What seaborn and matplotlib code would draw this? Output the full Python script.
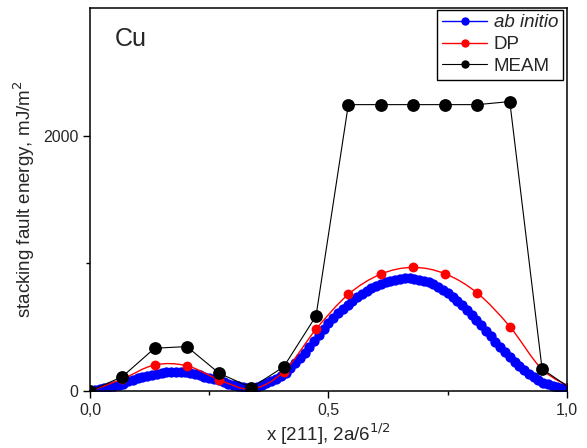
import numpy as np
import seaborn as sns
import matplotlib.pyplot as plt
from matplotlib.lines import Line2D
from matplotlib.path import Path
from matplotlib.patches import PathPatch

# ab initio (dense), DP and MEAM data
abinit_x = np.round(np.arange(0, 101) * 0.01, 2)
abinit_y = [0, 8, 16, 24, 31, 38, 45, 52, 75, 90,
            100, 108, 116, 125, 134, 142, 147, 150, 151, 149,
            146, 140, 133, 123, 113, 104, 94, 84, 70, 58,
            48, 40, 32, 26, 24, 35, 45, 60, 78, 95,
            114, 145, 180, 218, 256, 300, 345, 395, 440, 485,
            530, 570, 608, 643, 676, 708, 737, 762, 784, 803,
            822, 839, 852, 863, 871, 878, 882, 884, 881, 873,
            862, 850, 835, 814, 793, 766, 738, 708, 674, 636,
            597, 556, 515, 472, 428, 386, 343, 302, 266, 228,
            193, 162, 132, 108, 86, 66, 52, 40, 30, 24, 20]

grid_x = [0.0, 0.0677, 0.1354, 0.2031, 0.2708, 0.3385, 0.4062, 0.4739,
          0.5416, 0.6093, 0.6770, 0.7447, 0.8124, 0.8801, 0.9478, 1.0155]
dp_y = [0, 94, 204, 198, 88, 16, 152, 484, 757, 915, 968, 918, 766, 505, 170, 15]
meam_y = [0, 112, 335, 348, 139, 26, 190, 588, 2243, 2243, 2243, 2243, 2243, 2267, 173, 0]

xticks = [0.0, 0.5, 1.0]
xticklabels = ["0,0", "0,5", "1,0"]
yticks = [0, 2000]

sns.set_style("ticks")
plt.rcParams["font.family"] = ["Liberation Sans", "DejaVu Sans"]

fig = plt.figure(figsize=(5.87, 4.48), dpi=100)
ax = fig.add_axes([0.1533, 0.1272, 0.8126, 0.8550])

sns.scatterplot(x=abinit_x, y=abinit_y, ax=ax, color="#0000ff", s=55,
                linewidth=0, zorder=2, legend=False)

# DP: smooth (spline-style) connector through the points
pts = np.column_stack([grid_x, dp_y]).astype(float)
ext = np.vstack([pts[0], pts, pts[-1]])
verts = [tuple(pts[0])]
codes = [Path.MOVETO]
for i in range(1, len(ext) - 2):
    p0, p1, p2, p3 = ext[i - 1], ext[i], ext[i + 1], ext[i + 2]
    c1 = p1 + (p2 - p0) / 6
    c2 = p2 - (p3 - p1) / 6
    verts += [tuple(c1), tuple(c2), tuple(p2)]
    codes += [Path.CURVE4] * 3
ax.add_patch(PathPatch(Path(verts, codes), fill=False, edgecolor="#ff0000",
                       lw=1.0, zorder=3))
sns.scatterplot(x=grid_x, y=dp_y, ax=ax, color="#ff0000", s=50,
                linewidth=0, zorder=4, legend=False)

sns.lineplot(x=grid_x, y=meam_y, ax=ax, color="black", lw=0.8,
             sort=False, estimator=None, zorder=5)
sns.scatterplot(x=grid_x, y=meam_y, ax=ax, color="black", s=85,
                linewidth=0, zorder=6, legend=False)

ax.set_xlim(0, 1)
ax.set_ylim(0, 3000)
ax.set_xticks(xticks)
ax.set_xticklabels(xticklabels)
ax.set_xticks([0.25, 0.75], minor=True)
ax.set_yticks(yticks)
ax.set_yticks([1000], minor=True)
ax.tick_params(axis="both", which="major", labelsize=11.5, length=5,
               width=1, color="black", direction="out")
ax.tick_params(axis="both", which="minor", length=3, width=1,
               color="black", direction="out")
for sp in ax.spines.values():
    sp.set_visible(True)
    sp.set_linewidth(1.1)
    sp.set_color("black")

ax.set_xlabel("x [211], 2a/6$^{1/2}$", fontsize=13.5, labelpad=3)
ax.set_ylabel("stacking fault energy, mJ/m$^{2}$", fontsize=13.5, labelpad=4)
ax.text(0.052, 0.919, "Cu", transform=ax.transAxes, fontsize=18,
        ha="left", va="center")

handles = [
    Line2D([], [], color="#0000ff", lw=1, marker="o", markersize=6,
           markeredgewidth=0),
    Line2D([], [], color="#ff0000", lw=1, marker="o", markersize=6,
           markeredgewidth=0),
    Line2D([], [], color="black", lw=0.8, marker="o", markersize=6,
           markeredgewidth=0),
]
leg = ax.legend(handles, ["ab initio", "DP", "MEAM"], loc="upper right",
                bbox_to_anchor=(0.991, 0.996), borderaxespad=0,
                fontsize=13.5, frameon=True, fancybox=False,
                edgecolor="black", framealpha=1, handlelength=2.4,
                handletextpad=0.35, labelspacing=0.25, borderpad=0.25)
leg.get_frame().set_linewidth(1)
leg.get_texts()[0].set_fontstyle("italic")

fig.savefig("out.png", dpi=100)
